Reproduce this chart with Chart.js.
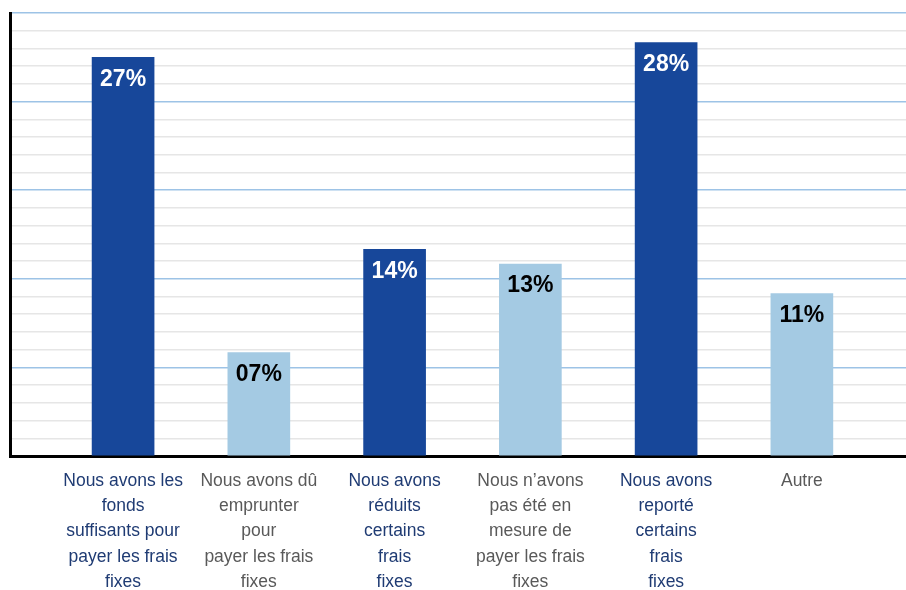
<!DOCTYPE html>
<html lang="fr">
<head>
<meta charset="utf-8">
<title>Frais fixes</title>
<script src="https://cdn.jsdelivr.net/npm/chart.js@4.4.1/dist/chart.umd.min.js"></script>
<style>
    html, body { margin: 0; padding: 0; background: #ffffff; }
    #wrap { width: 906px; height: 590px; position: relative; }
</style>
</head>
<body>
<div id="wrap"><canvas id="fraisChart"></canvas></div>
<script>
// Categories (one array of lines per bar)
const categories = [
    ['Nous avons les', 'fonds', 'suffisants pour', 'payer les frais', 'fixes'],
    ['Nous avons dû', 'emprunter', 'pour', 'payer les frais', 'fixes'],
    ['Nous avons', 'réduits', 'certains', 'frais', 'fixes'],
    ['Nous n’avons', 'pas été en', 'mesure de', 'payer les frais', 'fixes'],
    ['Nous avons', 'reporté', 'certains', 'frais', 'fixes'],
    ['Autre']
];
const percentValues = [27, 7, 14, 13, 28, 11];
const darkBar = [true, false, true, false, true, false];

const yMax = 30;
const gridSteps = 25; // minor lines, every 5th is a major line

const DARK = '#17479a';
const LIGHT = '#a4cae3';

document.addEventListener('DOMContentLoaded', function () {
    // Value labels drawn inside the top of each bar
    const barLabels = {
        id: 'barLabels',
        afterDatasetsDraw(chart) {
            const ctx = chart.ctx;
            const meta = chart.getDatasetMeta(0);
            ctx.save();
            ctx.font = 'bold 23px "Liberation Sans", Arial, sans-serif';
            ctx.textAlign = 'center';
            ctx.textBaseline = 'middle';
            meta.data.forEach(function (bar, i) {
                const txt = String(percentValues[i]).padStart(2, '0') + '%';
                ctx.fillStyle = darkBar[i] ? '#ffffff' : '#000000';
                ctx.fillText(txt, bar.x, bar.y + 22);
            });
            ctx.restore();
        }
    };

    const ctx = document.getElementById('fraisChart').getContext('2d');
    new Chart(ctx, {
        type: 'bar',
        data: {
            datasets: [{
                data: percentValues.map((v, i) => ({ x: i, y: v })),
                backgroundColor: darkBar.map(d => d ? DARK : LIGHT),
                borderWidth: 0,
                barThickness: 62
            }]
        },
        options: {
            responsive: true,
            maintainAspectRatio: false,
            animation: false,
            layout: { padding: { top: 13, left: 10, right: 0, bottom: 0 } },
            plugins: {
                legend: { display: false },
                tooltip: { enabled: false }
            },
            scales: {
                x: {
                    type: 'linear',
                    offset: false,
                    min: -0.833,
                    max: 5.767,
                    afterBuildTicks: function (scale) {
                        scale.ticks = categories.map((c, i) => ({ value: i }));
                    },
                    afterFit: function (scale) { scale.height = 134; },
                    grid: { display: false },
                    border: { display: true, color: '#000000', width: 3 },
                    ticks: {
                        autoSkip: false,
                        maxRotation: 0,
                        padding: 4,
                        font: { family: '"Liberation Sans", Arial, sans-serif', size: 17.5, lineHeight: 1.45 },
                        color: function (c) { return darkBar[c.index] ? '#1f3b73' : '#595959'; },
                        callback: function (value) { return categories[value] || ''; }
                    }
                },
                y: {
                    min: 0,
                    max: yMax,
                    afterBuildTicks: function (scale) {
                        const t = [];
                        for (let i = 0; i <= gridSteps; i++) t.push({ value: i * yMax / gridSteps });
                        scale.ticks = t;
                    },
                    ticks: { display: false },
                    grid: {
                        drawTicks: false,
                        lineWidth: 1.5,
                        color: function (c) { return c.index % 5 === 0 ? '#9dc3e6' : '#e6e6e6'; }
                    },
                    border: { display: true, color: '#000000', width: 3 }
                }
            }
        },
        plugins: [barLabels]
    });
});
</script>
</body>
</html>
